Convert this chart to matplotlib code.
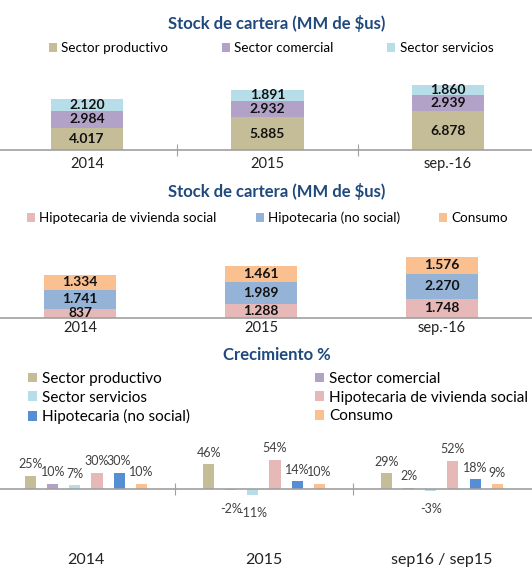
import numpy as np
import matplotlib
matplotlib.use('Agg')
import matplotlib.pyplot as plt

plt.rcParams['font.family'] = ['Lato', 'DejaVu Sans']

W, H = 532, 567

# --- data ---
years_stock = ['2014', '2015', 'sep.-16']
productivo = [4017, 5885, 6878]
comercial = [2984, 2932, 2939]
servicios = [2120, 1891, 1860]

hip_social = [837, 1288, 1748]
hip_no_social = [1741, 1989, 2270]
consumo = [1334, 1461, 1576]

years_growth = ['2014', '2015', 'sep16 / sep15']
growth_names = ['Sector productivo', 'Sector comercial', 'Sector servicios',
                'Hipotecaria de vivienda social', 'Hipotecaria (no social)', 'Consumo']
growth = [
    [25, 46, 29],
    [10, -2, 2],
    [7, -11, -3],
    [30, 54, 52],
    [30, 14, 18],
    [10, 10, 9],
]

c_prod = '#C4BD97'
c_com = '#B3A2C7'
c_serv = '#B7DEE8'
c_hsoc = '#E6B9B8'
c_hno = '#95B3D7'
c_hno_dark = '#558ED5'
c_cons = '#FAC090'
growth_colors = [c_prod, c_com, c_serv, c_hsoc, c_hno_dark, c_cons]
title_color = '#1F497D'
axis_color = '#A0A0A0'


def px_axes(fig, left, right, top, bottom):
    # pixel box (from top-left) -> figure fraction
    return fig.add_axes([left / W, 1 - bottom / H, (right - left) / W, (bottom - top) / H])


def fmt(v):
    return f'{v:,}'.replace(',', '.')


def clean(ax):
    for s in ['top', 'right', 'left']:
        ax.spines[s].set_visible(False)
    ax.spines['bottom'].set_color(axis_color)
    ax.spines['bottom'].set_linewidth(1.2)
    ax.set_yticks([])


fig = plt.figure(figsize=(W / 100, H / 100), dpi=100)

# ---------- panel 1 ----------
ax1 = px_axes(fig, 0, W, 150 - 72.8, 150)
x = np.arange(len(years_stock))
b1 = ax1.bar(x, productivo, 0.4, color=c_prod, label='Sector productivo')
b2 = ax1.bar(x, comercial, 0.4, bottom=productivo, color=c_com, label='Sector comercial')
bot = np.array(productivo) + np.array(comercial)
b3 = ax1.bar(x, servicios, 0.4, bottom=bot, color=c_serv, label='Sector servicios')
for b, vals in [(b1, productivo), (b2, comercial), (b3, servicios)]:
    ax1.bar_label(b, labels=[fmt(v) for v in vals], label_type='center',
                  fontsize=10, fontweight='bold', color='#111111')
ax1.set_ylim(0, 13000)
ax1.set_xlim(-0.482, 2.465)
clean(ax1)
ax1.set_xticks([0.5, 1.5])
ax1.set_xticklabels([])
ax1.tick_params(axis='x', which='major', direction='inout', length=8, color=axis_color)
ax1.set_xticks(x, minor=True)
ax1.set_xticklabels(years_stock, minor=True, fontsize=10.5, color='#222222')
ax1.tick_params(axis='x', which='minor', length=0, pad=5)
fig.text(277 / W, 1 - 24 / H, 'Stock de cartera (MM de $us)', ha='center', va='center',
         fontsize=12, fontweight='bold', color=title_color)
fig.legend(handles=[b1, b2, b3], loc='center left', bbox_to_anchor=(49 / W, 1 - 48 / H),
           ncol=3, frameon=False, fontsize=9.7, handlelength=0.6, handleheight=0.6,
           handletextpad=0.3, columnspacing=4.0, borderpad=0, borderaxespad=0)

# ---------- panel 2 ----------
ax2 = px_axes(fig, 0, W, 318 - 65.7, 318)
d1 = ax2.bar(x, hip_social, 0.4, color=c_hsoc, label='Hipotecaria de vivienda social')
d2 = ax2.bar(x, hip_no_social, 0.4, bottom=hip_social, color=c_hno, label='Hipotecaria (no social)')
bot2 = np.array(hip_social) + np.array(hip_no_social)
d3 = ax2.bar(x, consumo, 0.4, bottom=bot2, color=c_cons, label='Consumo')
for b, vals in [(d1, hip_social), (d2, hip_no_social), (d3, consumo)]:
    ax2.bar_label(b, labels=[fmt(v) for v in vals], label_type='center',
                  fontsize=10, fontweight='bold', color='#111111')
ax2.set_ylim(0, 6000)
ax2.set_xlim(-0.442, 2.497)
clean(ax2)
ax2.set_xticks(x)
ax2.set_xticklabels(years_stock, fontsize=10.5, color='#222222')
ax2.tick_params(axis='x', length=0, pad=2)
fig.text(277 / W, 1 - 192 / H, 'Stock de cartera (MM de $us)', ha='center', va='center',
         fontsize=12, fontweight='bold', color=title_color)
fig.legend(handles=[d1, d2, d3], loc='center left', bbox_to_anchor=(27 / W, 1 - 218 / H),
           ncol=3, frameon=False, fontsize=9.7, handlelength=0.6, handleheight=0.6,
           handletextpad=0.3, columnspacing=2.9, borderpad=0, borderaxespad=0)

# ---------- panel 3 ----------
ax3 = px_axes(fig, 0, W, 489 - 60 * 0.54, 489 + 30 * 0.54)
step = 0.124
handles = []
for k, (name, vals, col) in enumerate(zip(growth_names, growth, growth_colors)):
    xs = x + (k - 2.5) * step
    b = ax3.bar(xs, vals, 0.062, color=col, label=name)
    handles.append(b)
    for xi, v in zip(xs, vals):
        if v >= 0:
            ax3.annotate(f'{v}%', (xi, v), xytext=(0, 4), textcoords='offset points',
                         ha='center', va='bottom', fontsize=9, color='#404040')
        else:
            ax3.annotate(f'{v}%', (xi, v), xytext=(0, -9), textcoords='offset points',
                         ha='center', va='top', fontsize=9, color='#404040')
ax3.set_ylim(-30, 60)
ax3.set_xlim(-0.483, 2.506)
clean(ax3)
ax3.spines['bottom'].set_position(('data', 0))
ax3.set_xticks([0.5, 1.5])
ax3.set_xticklabels([])
ax3.tick_params(axis='x', which='major', direction='inout', length=8, color=axis_color)
ax3.set_xticks(x, minor=True)
ax3.set_xticklabels(years_growth, minor=True, fontsize=11.5, color='#222222')
ax3.tick_params(axis='x', which='minor', length=0, pad=46)
fig.text(277 / W, 1 - 355 / H, 'Crecimiento %', ha='center', va='center',
         fontsize=12, fontweight='bold', color=title_color)
order = [0, 2, 4, 1, 3, 5]
fig.legend(handles=[handles[i] for i in order], loc='upper left',
           bbox_to_anchor=(28 / W, 1 - 372 / H), ncol=2, frameon=False, fontsize=11,
           handlelength=0.6, handleheight=0.6, handletextpad=0.3, columnspacing=8.2,
           labelspacing=0.3, borderpad=0, borderaxespad=0)

fig.savefig('out.png', dpi=100)
